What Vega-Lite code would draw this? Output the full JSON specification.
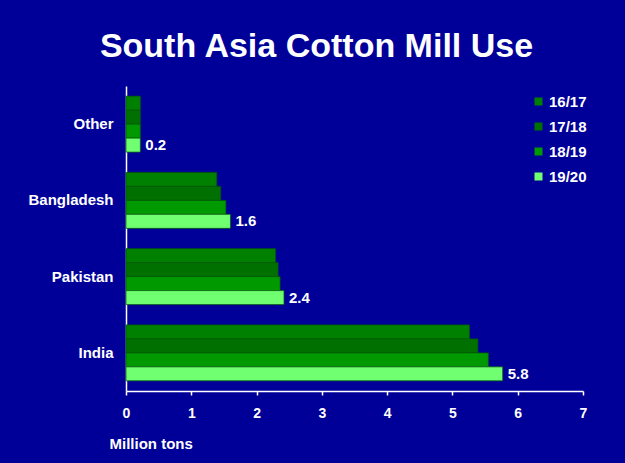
{
  "$schema": "https://vega.github.io/schema/vega-lite/v6.json",
  "autosize": {"type": "none"},
  "width": 457,
  "height": 305,
  "padding": {"left": 126, "top": 86, "right": 42, "bottom": 72},
  "background": "#000099",
  "title": {
    "text": "South Asia Cotton Mill Use",
    "anchor": "middle",
    "dx": -38,
    "dy": 33,
    "offset": 28,
    "baseline": "alphabetic",
    "font": "Liberation Sans",
    "fontSize": 34,
    "fontWeight": "bold",
    "color": "white"
  },
  "config": {
    "view": {"stroke": null},
    "font": "Liberation Sans",
    "axis": {"grid": false}
  },
  "data": {
    "values": [
      {"country": "Other", "year": "16/17", "value": 0.22},
      {"country": "Other", "year": "17/18", "value": 0.22},
      {"country": "Other", "year": "18/19", "value": 0.22},
      {"country": "Other", "year": "19/20", "value": 0.22},
      {"country": "Bangladesh", "year": "16/17", "value": 1.39},
      {"country": "Bangladesh", "year": "17/18", "value": 1.45},
      {"country": "Bangladesh", "year": "18/19", "value": 1.53},
      {"country": "Bangladesh", "year": "19/20", "value": 1.6},
      {"country": "Pakistan", "year": "16/17", "value": 2.29},
      {"country": "Pakistan", "year": "17/18", "value": 2.33},
      {"country": "Pakistan", "year": "18/19", "value": 2.36},
      {"country": "Pakistan", "year": "19/20", "value": 2.42},
      {"country": "India", "year": "16/17", "value": 5.26},
      {"country": "India", "year": "17/18", "value": 5.39},
      {"country": "India", "year": "18/19", "value": 5.55},
      {"country": "India", "year": "19/20", "value": 5.77}
    ]
  },
  "encoding": {
    "y": {
      "field": "country",
      "type": "nominal",
      "sort": ["Other", "Bangladesh", "Pakistan", "India"],
      "scale": {"paddingInner": 0.266, "paddingOuter": 0.133},
      "axis": {
        "title": null,
        "ticks": false,
        "domainColor": "white",
        "domainWidth": 1.5,
        "labelColor": "white",
        "labelFontSize": 15,
        "labelFontWeight": "bold",
        "labelPadding": 13
      }
    },
    "yOffset": {
      "field": "year",
      "type": "nominal",
      "sort": ["16/17", "17/18", "18/19", "19/20"],
      "scale": {"paddingInner": 0, "paddingOuter": 0}
    },
    "x": {
      "field": "value",
      "type": "quantitative",
      "scale": {"domain": [0, 7]},
      "axis": {
        "title": "Million tons",
        "titleColor": "white",
        "titleFontSize": 15,
        "titleFontWeight": "bold",
        "titleAnchor": "start",
        "titleAlign": "left",
        "titleBaseline": "middle",
        "titleX": -17,
        "titleY": 52,
        "values": [0, 1, 2, 3, 4, 5, 6, 7],
        "format": "d",
        "domainColor": "white",
        "domainWidth": 1.5,
        "tickColor": "white",
        "tickSize": 4,
        "tickWidth": 1.5,
        "labelColor": "white",
        "labelFontSize": 14,
        "labelFontWeight": "bold",
        "labelPadding": 11,
        "labelFlush": false
      }
    }
  },
  "layer": [
    {
      "mark": {"type": "bar", "stroke": "#005a00", "strokeWidth": 0.7},
      "encoding": {
        "color": {
          "field": "year",
          "type": "nominal",
          "scale": {
            "domain": ["16/17", "17/18", "18/19", "19/20"],
            "range": ["#008000", "#007000", "#009900", "#70FF70"]
          },
          "legend": {
            "title": null,
            "orient": "none",
            "legendX": 405,
            "legendY": 8,
            "symbolType": "square",
            "symbolSize": 64,
            "symbolStrokeWidth": 0,
            "labelColor": "white",
            "labelFontSize": 15,
            "labelFontWeight": "bold",
            "labelOffset": 3,
            "rowPadding": 9
          }
        }
      }
    },
    {
      "transform": [{"filter": "datum.year === '19/20'"}],
      "mark": {
        "type": "text",
        "align": "left",
        "baseline": "middle",
        "dx": 5,
        "color": "white",
        "fontSize": 15,
        "fontWeight": "bold"
      },
      "encoding": {
        "text": {"field": "value", "type": "quantitative", "format": ".1f"}
      }
    }
  ]
}
